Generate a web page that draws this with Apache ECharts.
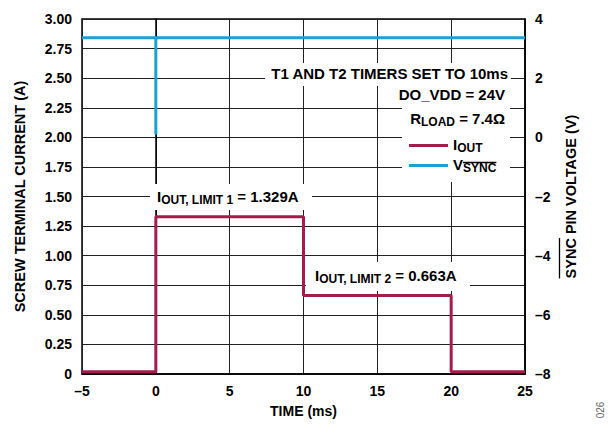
<!DOCTYPE html>
<html>
<head>
<meta charset="utf-8">
<script src="https://cdn.jsdelivr.net/npm/echarts@6/dist/echarts.min.js"></script>
<style>
  html, body { margin: 0; padding: 0; background: #fff; }
  #chart { width: 608px; height: 424px; }
</style>
</head>
<body>
<div id="chart"></div>
<script>
// Output current step response (screw terminal current) and SYNC pin voltage vs time
const timeMs     = [-5, 0, 0, 10, 10, 20, 20, 25];
const ioutAmps   = [0.02, 0.02, 1.329, 1.329, 0.663, 0.663, 0.02, 0.02];
const syncTimeMs = [-5, 0, 0, 0, 25];
const syncVolts  = [3.37, 3.37, 0.1, 3.37, 3.37];

const timeRange    = [-5, 25, 5];
const currentRange = [0, 3, 0.25];
const voltRange    = [-8, 4, 1];

const limit1 = 1.329;
const limit2 = 0.663;

const FONT = '"Liberation Sans", Arial, Helvetica, sans-serif';
const RED = '#a51c49';
const BLUE = '#1aa1d9';

function dash(v) { return String(v).replace('-', '\u2013'); }
function textWidth(str, size) {
  const ctx = document.createElement('canvas').getContext('2d');
  ctx.font = 'bold ' + size + 'px "Liberation Sans"';
  return ctx.measureText(str).width;
}

// main text + subscript styles
const rich = {
  m: { fontSize: 15, fontWeight: 'bold', fontFamily: FONT, color: '#000', lineHeight: 17, verticalAlign: 'top' },
  s: { fontSize: 12, fontWeight: 'bold', fontFamily: FONT, color: '#000', lineHeight: 13, padding: [7, 0, 0, 0], verticalAlign: 'bottom' }
};

const chart = echarts.init(document.getElementById('chart'), null, { renderer: 'svg' });

const gridL = 82, gridR = 525, gridT = 19, gridB = 374;
const titleSize = 14.5;

// overline over "SYNC" in the rotated right-axis title
const rTitle = 'SYNC PIN VOLTAGE (V)';
const rW = textWidth(rTitle, titleSize);
const rSync = textWidth('SYNC', titleSize);
const rCenterY = (gridT + gridB) / 2;
const rBottom = rCenterY + rW / 2;

// overline over the "SYNC" subscript in the legend
const legLeft = 409;
const legTextX = legLeft + 39 + 5;
const vW = textWidth('V', 15);
const syncSubW = textWidth('SYNC', 12);

function whiteBox(x1, y1, x2, y2) {
  return { type: 'rect', z: 1, silent: true, shape: { x: x1, y: y1, width: x2 - x1, height: y2 - y1 }, style: { fill: '#fff' } };
}
function note(x, y, text, align) {
  return { type: 'text', z: 3, x: x, y: y, style: { text: text, rich: rich, align: align, verticalAlign: 'middle', fontSize: 15, fontWeight: 'bold', fontFamily: FONT, fill: '#000' } };
}

const titleStyle = { fontSize: titleSize, fontWeight: 'bold', color: '#000', fontFamily: FONT };
const tickStyle = { fontSize: 14, fontWeight: 'bold', color: '#000', margin: 10 };

const option = {
  animation: false,
  backgroundColor: '#fff',
  textStyle: { fontFamily: FONT },
  grid: { left: gridL, right: 608 - gridR, top: gridT, bottom: 424 - gridB, show: true, borderColor: '#000', borderWidth: 1.5, backgroundColor: 'transparent' },
  legend: {
    orient: 'vertical', left: legLeft, top: 135, itemWidth: 39, itemHeight: 3, itemGap: 1, icon: 'rect', padding: 0,
    data: [{ name: 'IOUT', itemStyle: { color: RED } }, { name: 'VSYNC', itemStyle: { color: BLUE } }],
    formatter: function (n) { return n === 'IOUT' ? '{m|I}{s|OUT}' : '{m|V}{s|SYNC}'; },
    textStyle: { rich: rich, fontSize: 15, fontWeight: 'bold', color: '#000' },
    z: 4
  },
  xAxis: {
    type: 'value', min: timeRange[0], max: timeRange[1], interval: timeRange[2],
    name: 'TIME (ms)', nameLocation: 'middle', nameGap: 30,
    nameTextStyle: { fontSize: 14, fontWeight: 'bold', color: '#000', fontFamily: FONT },
    axisLine: { lineStyle: { color: '#000', width: 1.5 } },
    axisTick: { show: false },
    axisLabel: Object.assign({ formatter: dash }, tickStyle),
    splitLine: { show: true, lineStyle: { color: '#222', width: 1 } }
  },
  yAxis: [{
    type: 'value', min: currentRange[0], max: currentRange[1], interval: currentRange[2],
    name: 'SCREW TERMINAL CURRENT (A)', nameLocation: 'middle', nameGap: 55,
    nameTextStyle: titleStyle,
    axisLine: { show: true, lineStyle: { color: '#000', width: 1.5 } },
    axisTick: { show: false },
    axisLabel: Object.assign({ formatter: function (v) { return v === 0 ? '0' : v.toFixed(2); } }, tickStyle),
    splitLine: { show: true, lineStyle: { color: '#222', width: 1 } }
  }, {
    type: 'value', position: 'right', min: voltRange[0], max: voltRange[1], interval: voltRange[2],
    name: rTitle, nameLocation: 'middle', nameGap: 38, nameRotate: 90,
    nameTextStyle: titleStyle,
    axisLine: { show: true, lineStyle: { color: '#000', width: 1.5 } },
    axisTick: { show: false },
    axisLabel: Object.assign({ formatter: function (v) { return v % 2 === 0 ? dash(v) : ''; } }, tickStyle),
    splitLine: { show: false }
  }],
  series: [{
    name: 'VSYNC', type: 'line', yAxisIndex: 1, showSymbol: false, z: 2,
    lineStyle: { color: BLUE, width: 3 }, itemStyle: { color: BLUE },
    data: syncTimeMs.map(function (t, i) { return [t, syncVolts[i]]; })
  }, {
    name: 'IOUT', type: 'line', yAxisIndex: 0, showSymbol: false, z: 2,
    lineStyle: { color: RED, width: 3 }, itemStyle: { color: RED },
    data: timeMs.map(function (t, i) { return [t, ioutAmps[i]]; })
  }],
  graphic: [
    whiteBox(265, 63, 511, 86),
    whiteBox(402, 86, 510, 182),
    whiteBox(150, 184, 312, 210),
    whiteBox(306, 262, 470, 291),
    note(508, 74, '{m|T1 AND T2 TIMERS SET TO 10ms}', 'right'),
    note(505, 95, '{m|DO_VDD = 24V}', 'right'),
    note(505, 119, '{m|R}{s|LOAD}{m| = 7.4\u03A9}', 'right'),
    note(157, 197, '{m|I}{s|OUT, LIMIT 1}{m| = ' + limit1.toFixed(3) + 'A}', 'left'),
    note(315, 276, '{m|I}{s|OUT, LIMIT 2}{m| = ' + limit2.toFixed(3) + 'A}', 'left'),
    { type: 'line', z: 5, silent: true, shape: { x1: 559.5, y1: rBottom - rSync, x2: 559.5, y2: rBottom }, style: { stroke: '#000', lineWidth: 1.3 } },
    { type: 'line', z: 5, silent: true, shape: { x1: legTextX + vW, y1: 162.5, x2: legTextX + vW + syncSubW, y2: 162.5 }, style: { stroke: '#000', lineWidth: 1.3 } },
    { type: 'text', z: 3, x: 600, y: 410, rotation: Math.PI / 2, style: { text: '026', fontSize: 10, fontFamily: FONT, fill: '#666', align: 'center', verticalAlign: 'middle' } }
  ]
};

chart.setOption(option);
</script>
</body>
</html>
